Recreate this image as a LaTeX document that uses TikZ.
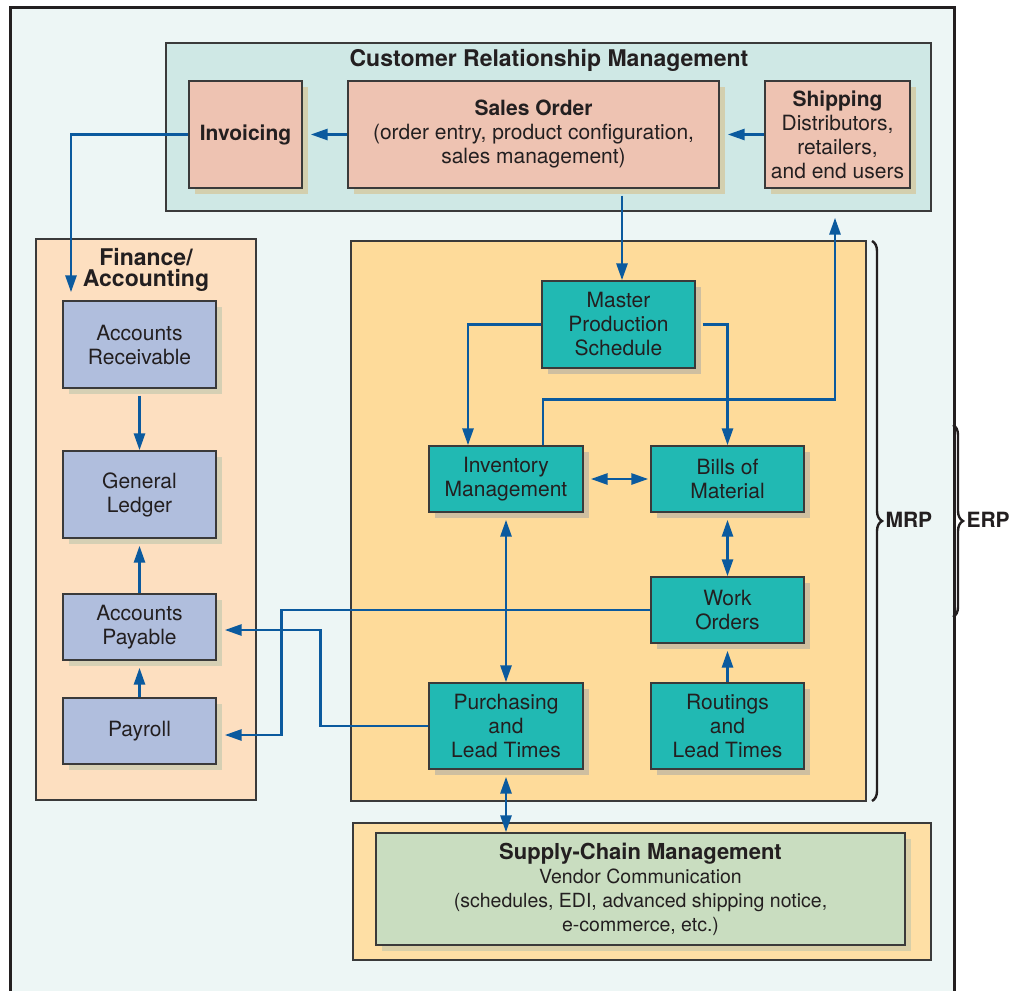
\documentclass[tikz,border=0pt]{standalone}
\usepackage{fontspec}
\setmainfont{TeX Gyre Heros}
\usepackage{tikz}
\usetikzlibrary{arrows.meta, positioning, calc, shadows, decorations.pathreplacing}

\definecolor{framebg}{HTML}{EDF6F5}
\definecolor{framedark}{HTML}{231F20}
\definecolor{ink}{HTML}{231F20}
\definecolor{edgegray}{HTML}{3A3A3A}
\definecolor{crmbg}{HTML}{CFE8E5}
\definecolor{salmon}{HTML}{EEC3B2}
\definecolor{finbg}{HTML}{FDDFC0}
\definecolor{slateblue}{HTML}{B0BEDD}
\definecolor{mrpbg}{HTML}{FEDB9A}
\definecolor{tealbox}{HTML}{21B9B3}
\definecolor{scmbg}{HTML}{FEDFA5}
\definecolor{sagegreen}{HTML}{C9DDC0}
\definecolor{flowblue}{HTML}{0B5A9E}
\definecolor{tanA}{HTML}{D3CFAE}
\definecolor{tanB}{HTML}{D6D0B4}
\definecolor{tanC}{HTML}{CFBFA0}
\definecolor{tanD}{HTML}{D8CFA8}

\newcommand{\erpbody}{\fontsize{21}{24}\selectfont}
\newcommand{\erphead}{\bfseries\fontsize{23}{21}\selectfont}

\tikzset{
  panel/.style={draw=edgegray, line width=1.3pt, inner sep=0pt},
  box/.style={draw=edgegray, line width=1.4pt, inner sep=0pt, align=center, text=ink, font=\erpbody},
  crmbox/.style={box, fill=salmon, drop shadow={shadow xshift=6pt, shadow yshift=-6pt, opacity=1, fill=tanA}},
  finbox/.style={box, fill=slateblue, minimum width=153pt, drop shadow={shadow xshift=6pt, shadow yshift=-6pt, opacity=1, fill=tanB}},
  mrpbox/.style={box, fill=tealbox, drop shadow={shadow xshift=6pt, shadow yshift=-6pt, opacity=1, fill=tanC}},
  flow/.style={draw=flowblue, line width=2.8pt, -{Triangle[length=17pt, width=11pt]}},
  twoway/.style={flow, {Triangle[length=17pt, width=11pt]}-{Triangle[length=17pt, width=11pt]}},
  bracket/.style={draw=ink, line width=2.4pt, decorate, decoration={brace, amplitude=10pt}}
}

\begin{document}
\begin{tikzpicture}[x=1pt, y=-1pt]
  \useasboundingbox (0,0) rectangle (1014,990);
  \draw[line width=3pt, draw=framedark, fill=framebg] (10,995) -- (10,8) -- (954,8) -- (954,995);

  \node[panel, fill=crmbg, minimum width=765pt, minimum height=168pt] (crm) at (548.5,127) {};
  \node[font=\erphead, text=ink] (crmtitle) at (549,60) {Customer Relationship Management};
  \node[crmbox, minimum width=113pt, minimum height=107pt] (inv) at (245.5,134.5) {\textbf{Invoicing}};
  \node[crmbox, minimum width=371pt, minimum height=107pt] (sales) at (533.5,134.5)
    {\textbf{Sales Order}\\(order entry, product configuration,\\sales management)};
  \node[crmbox, minimum width=145pt, minimum height=107pt] (ship) at (837.5,134.5)
    {\textbf{Shipping}\\Distributors,\\retailers,\\and end users};

  \node[panel, fill=finbg, minimum width=220pt, minimum height=561pt] (fin) at (146,519.5) {};
  \node[font=\erphead, text=ink, align=center] (fintitle) at (146,270) {Finance/\\Accounting};
  \node[finbox, minimum height=87pt] (ar) at (139.5,344.5) {Accounts\\Receivable};
  \node[finbox, minimum height=87pt] (gl) at (139.5,494.5) {General\\Ledger};
  \node[finbox, minimum height=66pt] (ap) at (139.5,627) {Accounts\\Payable};
  \node[finbox, minimum height=66pt] (pay) at (139.5,731) {Payroll};

  \node[panel, fill=mrpbg, minimum width=515pt, minimum height=560pt] (mrp) at (608.5,521) {};
  \node[mrpbox, minimum width=153pt, minimum height=87pt] (mps) at (618.5,324.5) {Master\\Production\\Schedule};
  \node[mrpbox, minimum width=154pt, minimum height=66pt] (invm) at (506,479) {Inventory\\Management};
  \node[mrpbox, minimum width=153pt, minimum height=66pt] (bom) at (727.5,479) {Bills of\\Material};
  \node[mrpbox, minimum width=153pt, minimum height=66pt] (wo) at (727.5,610) {Work\\Orders};
  \node[mrpbox, minimum width=154pt, minimum height=86pt] (pur) at (506,726) {Purchasing\\and\\Lead Times};
  \node[mrpbox, minimum width=153pt, minimum height=86pt] (rout) at (727.5,726) {Routings\\and\\Lead Times};

  \node[panel, fill=scmbg, minimum width=578pt, minimum height=137pt] (scmpanel) at (642,891.5) {};
  \node[box, fill=sagegreen, minimum width=529pt, minimum height=112pt,
        drop shadow={shadow xshift=6pt, shadow yshift=-6pt, opacity=1, fill=tanD},
        font=\fontsize{19.5}{24}\selectfont] (scm) at (640.5,889)
    {{\fontsize{22}{24}\selectfont\bfseries Supply-Chain Management}\\Vendor Communication\\(schedules, EDI, advanced shipping notice,\\e-commerce, etc.)};

  \draw[flow] (sales.west) -- ([xshift=8pt]inv.east);
  \draw[flow] (ship.west) -- ([xshift=8pt]sales.east);
  \draw[flow] (inv.west) -| ([xshift=-68.5pt, yshift=8pt]ar.north);
  \draw[flow] ([xshift=88.5pt, yshift=-7pt]sales.south) coordinate (so) -- (so |- mps.north);
  \draw[flow] (mps.west) -| ([xshift=-38pt]invm.north);
  \draw[flow] ([xshift=7pt]mps.east) -| (bom.north);
  \draw[flow] ([xshift=37pt]invm.north) -- ++(0,-46) -| ([xshift=286.5pt, yshift=-6pt]crm.south);
  \draw[twoway] ([xshift=7pt]invm.east) -- ([xshift=-2pt]bom.west);
  \draw[twoway] ([yshift=-7pt]invm.south) -- (pur.north);
  \draw[twoway] ([yshift=-7pt]bom.south) -- (wo.north);
  \draw[flow] (rout.north) -- ([yshift=-7pt]wo.south);
  \draw[flow] (wo.west) -- ++(-369,0) |- ([xshift=8pt, yshift=-4pt]pay.east);
  \draw[flow] (pur.west) -- ++(-108,0) |- ([xshift=8pt, yshift=-3pt]ap.east);
  \draw[twoway] ([yshift=-7pt]pur.south) -- (pur.south |- scm.north);
  \draw[flow] ([yshift=-7pt]ar.south) -- (gl.north);
  \draw[flow] (ap.north) -- ([yshift=-7pt]gl.south);
  \draw[flow] (pay.north) -- ([yshift=-7pt]ap.south);

  \draw[bracket] (872,241) -- (872,801);
  \node[font=\bfseries\erpbody, text=ink, anchor=west] (mrplabel) at (882,520) {MRP};
  \draw[bracket] (953,425) -- (953,617);
  \node[font=\bfseries\erpbody, text=ink, anchor=west] (erplabel) at (963,520) {ERP};
\end{tikzpicture}
\end{document}
